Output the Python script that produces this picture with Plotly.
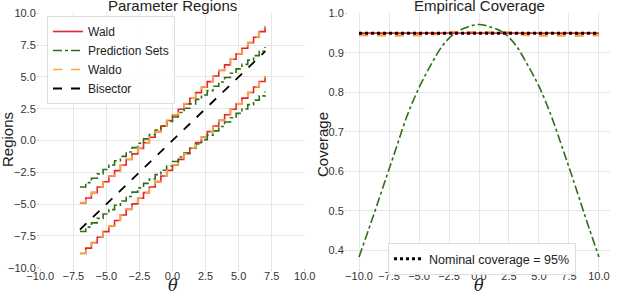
import plotly.graph_objects as go

# ---------------- data: left panel (Parameter Regions) ----------------
theta_grid = [-7.00, -6.56, -6.13, -5.69, -5.25, -4.81, -4.38, -3.94, -3.50, -3.06, -2.63,
              -2.19, -1.75, -1.31, -0.88, -0.44, 0.00, 0.44, 0.88, 1.31, 1.75, 2.19,
              2.63, 3.06, 3.50, 3.94, 4.38, 4.81, 5.25, 5.69, 6.13, 6.56, 7.00]

wald_upper = [-4.90, -4.52, -4.10, -3.66, -3.24, -2.80, -2.37, -1.93, -1.49, -1.05, -0.62,
              -0.18, 0.26, 0.70, 1.13, 1.57, 2.01, 2.45, 2.88, 3.32, 3.76, 4.19,
              4.63, 5.07, 5.50, 5.94, 6.38, 6.81, 7.25, 7.69, 8.12, 8.56, 8.98]
wald_lower = [-8.88, -8.46, -8.03, -7.60, -7.16, -6.72, -6.29, -5.85, -5.41, -4.98, -4.54,
              -4.10, -3.66, -3.23, -2.79, -2.35, -1.92, -1.48, -1.04, -0.61, -0.17, 0.27,
              0.70, 1.14, 1.58, 2.02, 2.45, 2.89, 3.33, 3.77, 4.20, 4.64, 5.05]
waldo_upper = [-4.88, -4.50, -4.08, -3.64, -3.22, -2.79, -2.35, -1.91, -1.47, -1.04, -0.60,
               -0.16, 0.27, 0.71, 1.15, 1.59, 2.02, 2.46, 2.90, 3.33, 3.77, 4.21,
               4.64, 5.08, 5.52, 5.95, 6.39, 6.83, 7.26, 7.70, 8.14, 8.57, 9.00]
waldo_lower = [-8.86, -8.44, -8.01, -7.58, -7.14, -6.70, -6.27, -5.83, -5.40, -4.96, -4.52,
               -4.09, -3.65, -3.21, -2.78, -2.34, -1.90, -1.46, -1.03, -0.59, -0.15, 0.28,
               0.72, 1.16, 1.59, 2.03, 2.47, 2.90, 3.34, 3.78, 4.22, 4.65, 5.07]
ps_upper = [-3.65, -3.31, -2.97, -2.62, -2.28, -1.93, -1.59, -1.25, -0.90, -0.56, -0.22,
            0.13, 0.47, 0.82, 1.16, 1.50, 1.85, 2.20, 2.54, 2.88, 3.23, 3.57,
            3.92, 4.26, 4.60, 4.95, 5.29, 5.63, 5.98, 6.32, 6.67, 7.01, 7.35]
ps_lower = [-7.15, -6.81, -6.47, -6.12, -5.78, -5.43, -5.09, -4.75, -4.40, -4.06, -3.72,
            -3.37, -3.03, -2.68, -2.34, -2.00, -1.65, -1.30, -0.96, -0.62, -0.27, 0.07,
            0.42, 0.76, 1.10, 1.45, 1.79, 2.13, 2.48, 2.82, 3.17, 3.51, 3.85]
bisector_x = [-7.0, 7.0]
bisector_y = [-7.0, 7.0]

# ---------------- data: right panel (Empirical Coverage) ----------------
theta_cov = [-10, -9, -8, -7, -6, -5, -4, -3, -2, -1, 0, 1, 2, 3, 4, 5, 6, 7, 8, 9, 10]
cov_wald = [0.950, 0.950, 0.951, 0.950, 0.950, 0.950, 0.951, 0.950, 0.950, 0.950, 0.950,
            0.950, 0.950, 0.951, 0.950, 0.950, 0.950, 0.951, 0.950, 0.950, 0.950]
cov_waldo = [0.946, 0.945, 0.946, 0.944, 0.946, 0.945, 0.947, 0.950, 0.952, 0.951, 0.952,
             0.951, 0.952, 0.949, 0.946, 0.945, 0.944, 0.945, 0.944, 0.945, 0.945]
cov_ps = [0.383, 0.470, 0.560, 0.650, 0.740, 0.812, 0.870, 0.920, 0.950, 0.965, 0.972,
          0.965, 0.952, 0.922, 0.872, 0.815, 0.742, 0.655, 0.565, 0.472, 0.383]
nominal_x = [-10, 10]
nominal_y = [0.95, 0.95]

# tick values
tick_vals = [-10, -7.5, -5, -2.5, 0, 2.5, 5, 7.5, 10]
cov_ticks = [0.4, 0.5, 0.6, 0.7, 0.8, 0.9, 1.0]

RED = "#e3262d"
GREEN = "#2f6f14"
ORANGE = "#fba640"
FONT = "Liberation Sans, Arial, sans-serif"

fig = go.Figure()

# left panel
fig.add_trace(go.Scatter(x=theta_grid, y=wald_upper, mode="lines", line_shape="hv",
                         line=dict(color=RED, width=1.6), name="Wald", legendgroup="wald",
                         xaxis="x", yaxis="y"))
fig.add_trace(go.Scatter(x=theta_grid, y=wald_lower, mode="lines", line_shape="hv",
                         line=dict(color=RED, width=1.6), name="Wald", legendgroup="wald",
                         showlegend=False, xaxis="x", yaxis="y"))
fig.add_trace(go.Scatter(x=theta_grid, y=ps_upper, mode="lines", line_shape="hv",
                         line=dict(color=GREEN, width=1.6, dash="dashdot"), name="Prediction Sets",
                         legendgroup="ps", xaxis="x", yaxis="y"))
fig.add_trace(go.Scatter(x=theta_grid, y=ps_lower, mode="lines", line_shape="hv",
                         line=dict(color=GREEN, width=1.6, dash="dashdot"), name="Prediction Sets",
                         legendgroup="ps", showlegend=False, xaxis="x", yaxis="y"))
fig.add_trace(go.Scatter(x=theta_grid, y=waldo_upper, mode="lines", line_shape="hv",
                         line=dict(color=ORANGE, width=1.6, dash="dash"), name="Waldo",
                         legendgroup="waldo", xaxis="x", yaxis="y"))
fig.add_trace(go.Scatter(x=theta_grid, y=waldo_lower, mode="lines", line_shape="hv",
                         line=dict(color=ORANGE, width=1.6, dash="dash"), name="Waldo",
                         legendgroup="waldo", showlegend=False, xaxis="x", yaxis="y"))
fig.add_trace(go.Scatter(x=bisector_x, y=bisector_y, mode="lines",
                         line=dict(color="black", width=1.8, dash="dash"), name="Bisector",
                         xaxis="x", yaxis="y"))

# right panel
fig.add_trace(go.Scatter(x=theta_cov, y=cov_ps, mode="lines", line_shape="spline",
                         line=dict(color=GREEN, width=1.6, dash="dashdot"), showlegend=False,
                         xaxis="x2", yaxis="y2"))
fig.add_trace(go.Scatter(x=theta_cov, y=cov_waldo, mode="lines",
                         line=dict(color=ORANGE, width=3, dash="dash"), showlegend=False,
                         xaxis="x2", yaxis="y2"))
fig.add_trace(go.Scatter(x=theta_cov, y=cov_wald, mode="lines",
                         line=dict(color=RED, width=1.6), showlegend=False,
                         xaxis="x2", yaxis="y2"))
fig.add_trace(go.Scatter(x=nominal_x, y=nominal_y, mode="lines",
                         line=dict(color="black", width=3, dash="dot"),
                         name="Nominal coverage = 95%", legend="legend2",
                         xaxis="x2", yaxis="y2"))

axis_common = dict(showgrid=True, gridcolor="#e6e6e6", gridwidth=1, zeroline=False,
                   showline=False, ticks="outside", ticklen=2, tickcolor="#cccccc",
                   automargin=False,
                   tickfont=dict(family=FONT, size=11, color="#333333"), tickformat=".1f")

Y0, Y1 = 24 / 292, 279 / 292
fig.update_layout(
    width=640, height=292,
    margin=dict(l=0, r=0, t=0, b=0, autoexpand=False),
    paper_bgcolor="white", plot_bgcolor="white",
    font=dict(family=FONT, color="#222222"),
    xaxis=dict(domain=[40 / 640, 305 / 640], range=[-10.02, 10.02], tickvals=tick_vals,
               anchor="y", ticklabelstandoff=-4, **axis_common),
    yaxis=dict(domain=[Y0, Y1], range=[-10.02, 10.02], tickvals=tick_vals,
               anchor="x", ticklabelstandoff=-1, **axis_common),
    xaxis2=dict(domain=[348 / 640, 610 / 640], range=[-10.92, 10.92], tickvals=tick_vals,
                anchor="y2", ticklabelstandoff=-4, **axis_common),
    yaxis2=dict(domain=[Y0, Y1], range=[0.355, 1.001], tickvals=cov_ticks,
                anchor="x2", ticklabelstandoff=-1, **axis_common),
    legend=dict(x=47 / 640, y=1 - 16 / 292, xanchor="left", yanchor="top",
                bgcolor="rgba(255,255,255,0.85)", bordercolor="#dddddd", borderwidth=1,
                font=dict(family=FONT, size=12, color="#222222"), tracegroupgap=0,
                itemwidth=30),
    legend2=dict(x=388 / 640, y=1 - 243 / 292, xanchor="left", yanchor="top",
                 bgcolor="rgba(255,255,255,0.9)", bordercolor="#dddddd", borderwidth=1,
                 font=dict(family=FONT, size=12.5, color="#222222"), itemwidth=30),
    showlegend=True,
    annotations=[
        dict(text="Parameter Regions", x=172.5 / 640, y=1 - 6 / 292, xref="paper", yref="paper",
             showarrow=False, xanchor="center", yanchor="middle",
             font=dict(family=FONT, size=15, color="#222222")),
        dict(text="Empirical Coverage", x=479 / 640, y=1 - 6 / 292, xref="paper", yref="paper",
             showarrow=False, xanchor="center", yanchor="middle",
             font=dict(family=FONT, size=15, color="#222222")),
        dict(text="<i>θ</i>", x=172.5 / 640, y=1 - 285 / 292, xref="paper", yref="paper",
             showarrow=False, xanchor="center", yanchor="middle",
             font=dict(family="DejaVu Serif, serif", size=16, color="#222222")),
        dict(text="<i>θ</i>", x=479 / 640, y=1 - 285 / 292, xref="paper", yref="paper",
             showarrow=False, xanchor="center", yanchor="middle",
             font=dict(family="DejaVu Serif, serif", size=16, color="#222222")),
        dict(text="Regions", x=8 / 640, y=1 - 140 / 292, xref="paper", yref="paper",
             showarrow=False, xanchor="center", yanchor="middle", textangle=-90,
             font=dict(family=FONT, size=15, color="#222222")),
        dict(text="Coverage", x=322 / 640, y=1 - 145 / 292, xref="paper", yref="paper",
             showarrow=False, xanchor="center", yanchor="middle", textangle=-90,
             font=dict(family=FONT, size=15, color="#222222")),
    ],
)

fig.write_html("out.html", config={"displayModeBar": False},
               post_script="document.body.style.margin='0';document.body.style.overflow='hidden';")
